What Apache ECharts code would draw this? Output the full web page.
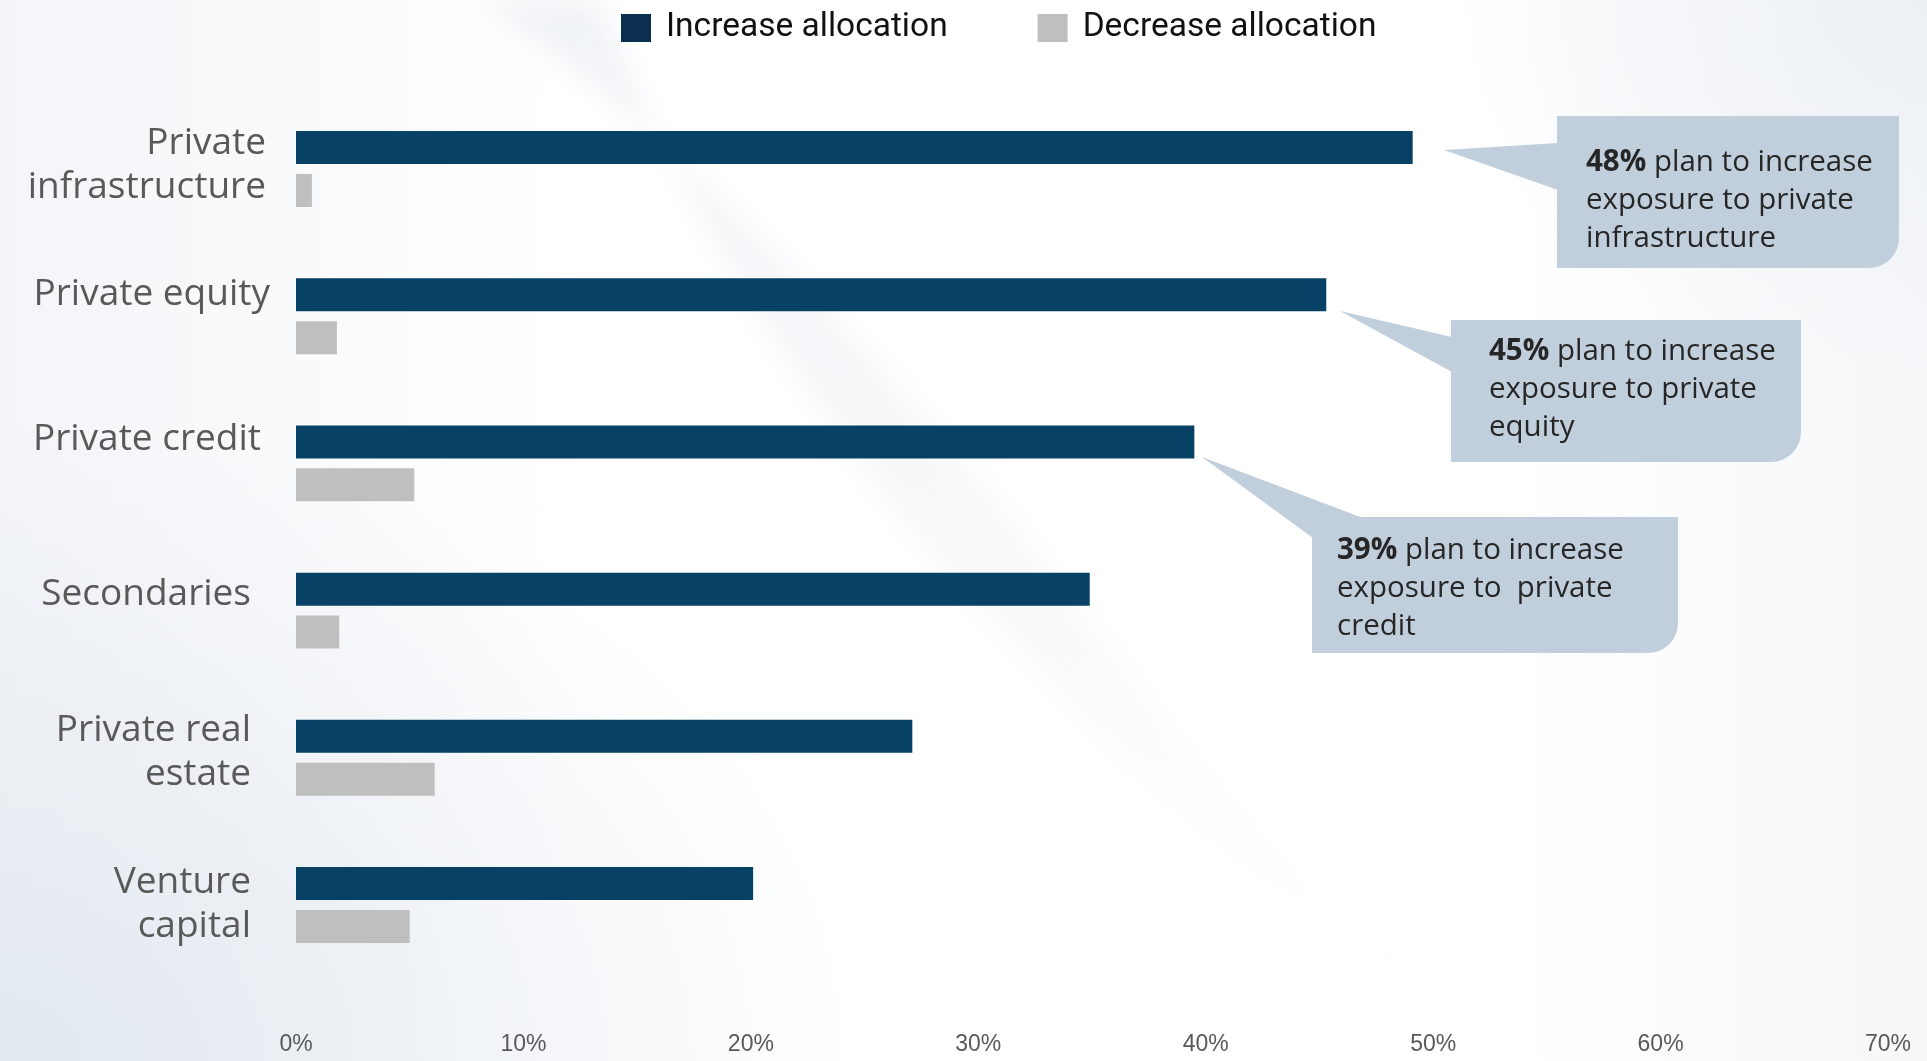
<!DOCTYPE html>
<html>
<head>
<meta charset="utf-8">
<script src="https://cdn.jsdelivr.net/npm/echarts@6/dist/echarts.min.js"></script>
<style>
html,body{margin:0;padding:0;}
#bg{position:absolute;left:0;top:0;width:1927px;height:1061px;
background:
 radial-gradient(ellipse 45% 60% at 0% 100%, rgba(226,233,240,1) 0%, rgba(226,233,240,0) 100%),
 radial-gradient(ellipse 25% 35% at 100% 0%, rgba(236,240,245,1) 0%, rgba(236,240,245,0) 100%),
 linear-gradient(90deg, #f3f5f8 0%, #ffffff 30%, #ffffff 78%, #f5f7f9 100%);}
#bg svg{position:absolute;left:0;top:0;}
#chart{position:absolute;left:0;top:0;width:1927px;height:1061px;}
</style>
</head>
<body>
<div id="bg">
<svg width="1927" height="1061" viewBox="0 0 1927 1061">
<defs>
<linearGradient id="sw" x1="0" y1="0" x2="1" y2="1">
<stop offset="0" stop-color="#e3e9ef" stop-opacity="0.55"/>
<stop offset="1" stop-color="#e3e9ef" stop-opacity="0"/>
</linearGradient>
<filter id="bl" x="-20%" y="-20%" width="140%" height="140%"><feGaussianBlur stdDeviation="14"/></filter>
</defs>
<path d="M 480 0 C 700 150 950 420 1150 700 C 1250 840 1350 930 1450 990 C 1250 900 1050 700 900 520 C 760 340 660 160 600 0 Z" fill="url(#sw)" filter="url(#bl)"/>
</svg>
</div>
<div id="chart"></div>
<script>
const categories = ['Private\ninfrastructure', 'Private equity', 'Private credit', 'Secondaries', 'Private real\nestate', 'Venture\ncapital'];
const increaseValues = [49.1, 45.3, 39.5, 34.9, 27.1, 20.1];
const decreaseValues = [0.7, 1.8, 5.2, 1.9, 6.1, 5.0];
const xTicks = [0, 10, 20, 30, 40, 50, 60, 70];
const seriesNames = ['Increase allocation', 'Decrease allocation'];
const callouts = [
  {pct: '48%', text: ' plan to increase\nexposure to private\ninfrastructure'},
  {pct: '45%', text: ' plan to increase\nexposure to private\nequity'},
  {pct: '39%', text: ' plan to increase\nexposure to  private\ncredit'}
];
// label placement tweaks (style only): extra right padding and vertical shift per category (px, + = down)
const labelPadRight = [4, 0, 9, 19, 19, 19];
const labelShiftY = [-4, -22, -24, -16, -5, -1];

const chart = echarts.init(document.getElementById('chart'), null, {renderer: 'canvas'});
const boxColor = '#c1cfdd';
const txtFont = '"Open Sans", sans-serif';

function calloutText(c, x, y) {
  const lines = c.text.split('\n');
  return {
    type: 'text', left: x, top: y, z: 12,
    style: {
      rich: {
        b: {fontFamily: txtFont, fontWeight: 'bold', fontSize: 29.5, fill: '#262626', lineHeight: 38},
        n: {fontFamily: txtFont, fontSize: 29.5, fill: '#262626', lineHeight: 38}
      },
      text: '{b|' + c.pct + '}{n|' + lines[0] + '}\n{n|' + lines[1] + '}\n{n|' + lines[2] + '}'
    }
  };
}

const labelRich = {l: {fontFamily: txtFont, fontSize: 37, color: '#595959', lineHeight: 44}};
categories.forEach(function (c, i) {
  labelRich['s' + i] = {fontSize: 1, lineHeight: Math.max(1, 2 * Math.abs(labelShiftY[i]))};
});

const yData = categories.map(function (c, i) {
  return {value: c, textStyle: {padding: [0, labelPadRight[i], 0, 0]}};
});

const option = {
  animation: false,
  backgroundColor: 'transparent',
  legend: {
    top: 6, left: 616,
    itemWidth: 30, itemHeight: 28, itemGap: 90,
    icon: 'rect',
    textStyle: {fontFamily: 'Roboto, sans-serif', fontSize: 33.5, color: '#111', padding: [0, 0, 0, 10]},
    data: [
      {name: seriesNames[0], itemStyle: {color: '#0a2f50'}},
      {name: seriesNames[1], itemStyle: {color: '#bfbfbf'}}
    ]
  },
  grid: {left: 296, right: 39, top: 95.4, bottom: 82.4, containLabel: false},
  xAxis: {
    type: 'value', min: xTicks[0], max: xTicks[xTicks.length - 1], interval: 10,
    axisLine: {show: false}, axisTick: {show: false}, splitLine: {show: false},
    axisLabel: {formatter: '{value}%', fontFamily: '"Liberation Sans Narrow", "Arial Narrow", "Liberation Sans", sans-serif',
      fontSize: 23, color: '#595959', margin: 55}
  },
  yAxis: {
    type: 'category', inverse: true, data: yData,
    axisLine: {show: false}, axisTick: {show: false},
    axisLabel: {
      margin: 26, align: 'right', rich: labelRich,
      formatter: function (v, i) {
        const body = v.split('\n').map(function (s) { return '{l|' + s + '}'; }).join('\n');
        const dy = labelShiftY[i];
        if (dy > 0) return '{s' + i + '| }\n' + body;
        if (dy < 0) return body + '\n{s' + i + '| }';
        return body;
      }
    }
  },
  series: [
    {name: seriesNames[0], type: 'bar', data: increaseValues, barWidth: 33, barGap: '30%',
     itemStyle: {color: '#074166'}},
    {name: seriesNames[1], type: 'bar', data: decreaseValues, barWidth: 33, barGap: '30%',
     itemStyle: {color: '#bfbfbf'}}
  ],
  graphic: [
    {type: 'polygon', z: 10, shape: {points: [[1444, 150], [1558, 143], [1558, 190]]}, style: {fill: boxColor}},
    {type: 'rect', z: 10, shape: {x: 1557, y: 116, width: 342, height: 152, r: [0, 0, 30, 0]}, style: {fill: boxColor}},
    calloutText(callouts[0], 1586, 147.5),
    {type: 'polygon', z: 10, shape: {points: [[1340, 311], [1452, 337], [1452, 372]]}, style: {fill: boxColor}},
    {type: 'rect', z: 10, shape: {x: 1451, y: 320, width: 350, height: 142, r: [0, 0, 30, 0]}, style: {fill: boxColor}},
    calloutText(callouts[1], 1489, 337),
    {type: 'polygon', z: 10, shape: {points: [[1202, 457], [1363, 518], [1313, 538]]}, style: {fill: boxColor}},
    {type: 'rect', z: 10, shape: {x: 1312, y: 517, width: 366, height: 136, r: [0, 0, 30, 0]}, style: {fill: boxColor}},
    calloutText(callouts[2], 1337, 536)
  ]
};
chart.setOption(option);
</script>
</body>
</html>
